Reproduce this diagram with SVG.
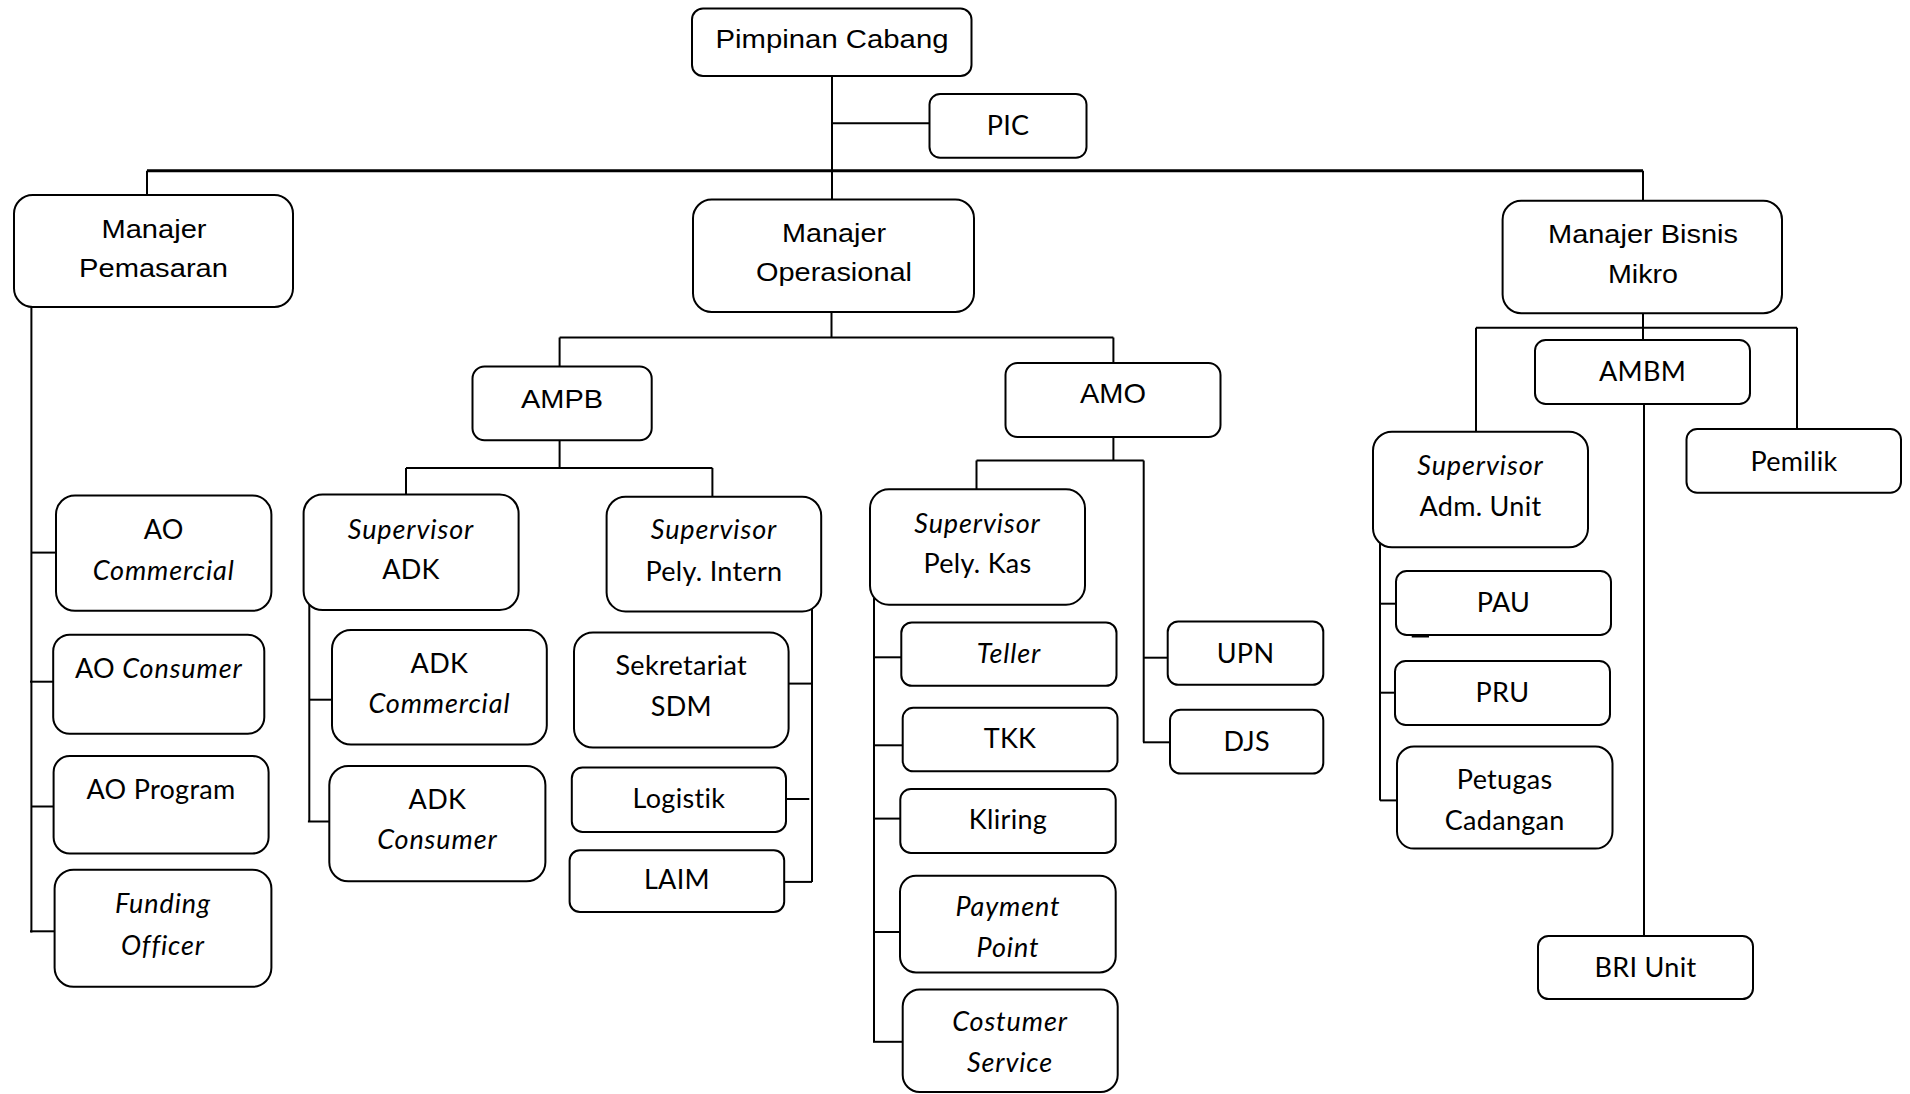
<svg xmlns="http://www.w3.org/2000/svg" width="1910" height="1094" viewBox="0 0 1910 1094">
<style>
rect{fill:#fff;stroke:#000;stroke-width:2}
.c line{stroke:#000;stroke-width:2}
text{font-family:Lato,"Liberation Sans",sans-serif;font-size:27px;letter-spacing:0.3px;fill:#000;text-anchor:middle}
.a{font-family:"Liberation Sans",Arial,sans-serif;font-size:26px;letter-spacing:0}
.i{font-style:italic;letter-spacing:0.9px}
</style>
<g class="c" id="connectors">
<line x1="832" y1="76" x2="832" y2="199.5"/>
<line x1="832" y1="123.3" x2="929.5" y2="123.3"/>
<line x1="147" y1="170.7" x2="1643" y2="170.7" style="stroke-width:3"/>
<line x1="147" y1="170.7" x2="147" y2="195"/>
<line x1="1643" y1="170.7" x2="1643" y2="200.7"/>
<line x1="31.4" y1="307" x2="31.4" y2="932.6"/>
<line x1="31.4" y1="552.6" x2="56" y2="552.6"/>
<line x1="30" y1="681.7" x2="53.2" y2="681.7"/>
<line x1="31.4" y1="806.5" x2="53.6" y2="806.5"/>
<line x1="30" y1="931.3" x2="54.6" y2="931.3"/>
<line x1="831.5" y1="312" x2="831.5" y2="337.5"/>
<line x1="559.6" y1="337.5" x2="1113.4" y2="337.5"/>
<line x1="559.6" y1="337.5" x2="559.6" y2="366.5"/>
<line x1="1113.4" y1="337.5" x2="1113.4" y2="363"/>
<line x1="559.6" y1="440.3" x2="559.6" y2="468"/>
<line x1="406" y1="468" x2="712.4" y2="468"/>
<line x1="406" y1="468" x2="406" y2="494.5"/>
<line x1="712.4" y1="468" x2="712.4" y2="496.7"/>
<line x1="309.3" y1="605" x2="309.3" y2="821.5"/>
<line x1="309.3" y1="699.7" x2="332" y2="699.7"/>
<line x1="307.9" y1="821.5" x2="329.3" y2="821.5"/>
<line x1="812" y1="608" x2="812" y2="882"/>
<line x1="788.6" y1="683.6" x2="812" y2="683.6"/>
<line x1="786" y1="799" x2="809.3" y2="799"/>
<line x1="784.2" y1="881.9" x2="812" y2="881.9"/>
<line x1="1113.4" y1="437" x2="1113.4" y2="460.5"/>
<line x1="976.5" y1="460.5" x2="1143.7" y2="460.5"/>
<line x1="976.5" y1="460.5" x2="976.5" y2="489.3"/>
<line x1="1143.7" y1="460.5" x2="1143.7" y2="742.3"/>
<line x1="1143" y1="657.7" x2="1167.7" y2="657.7"/>
<line x1="1143" y1="742.3" x2="1170" y2="742.3"/>
<line x1="874" y1="598" x2="874" y2="1041.8"/>
<line x1="874" y1="657.3" x2="901.3" y2="657.3"/>
<line x1="873" y1="745.3" x2="902.7" y2="745.3"/>
<line x1="874" y1="818.6" x2="900.3" y2="818.6"/>
<line x1="873" y1="932" x2="900" y2="932"/>
<line x1="873" y1="1041.8" x2="902.7" y2="1041.8"/>
<line x1="1643" y1="313.3" x2="1643" y2="340"/>
<line x1="1476" y1="327.7" x2="1797" y2="327.7"/>
<line x1="1476" y1="327.7" x2="1476" y2="431.7"/>
<line x1="1797" y1="327.7" x2="1797" y2="429"/>
<line x1="1644" y1="404" x2="1644" y2="936"/>
<line x1="1380" y1="543" x2="1380" y2="800.4"/>
<line x1="1380" y1="603.7" x2="1396" y2="603.7"/>
<line x1="1380" y1="692.7" x2="1395" y2="692.7"/>
<line x1="1380" y1="800.4" x2="1397" y2="800.4"/>
<line x1="1411.7" y1="636" x2="1429" y2="636" style="stroke-width:3"/>
</g>
<g id="pimpinan-cabang"><rect x="692" y="8.5" width="279.5" height="67.5" rx="11"/><text class="a" x="832" y="48.3" textLength="233" lengthAdjust="spacingAndGlyphs">Pimpinan Cabang</text></g>
<g id="pic"><rect x="929.5" y="94" width="157" height="63.7" rx="10.6"/><text x="1008" y="135">PIC</text></g>
<g id="manajer-pemasaran"><rect x="14" y="195" width="279" height="112" rx="18.7"/><text class="a" x="154" y="238" textLength="105" lengthAdjust="spacingAndGlyphs">Manajer</text><text class="a" x="153.5" y="276.7" textLength="149" lengthAdjust="spacingAndGlyphs">Pemasaran</text></g>
<g id="manajer-operasional"><rect x="693" y="199.5" width="281" height="112.5" rx="18.7"/><text class="a" x="834" y="242.3" textLength="104" lengthAdjust="spacingAndGlyphs">Manajer</text><text class="a" x="834" y="281" textLength="156" lengthAdjust="spacingAndGlyphs">Operasional</text></g>
<g id="manajer-bisnis-mikro"><rect x="1502.6" y="200.7" width="279.4" height="112.6" rx="18.7"/><text class="a" x="1643" y="243.3" textLength="190" lengthAdjust="spacingAndGlyphs">Manajer Bisnis</text><text class="a" x="1643" y="283.3" textLength="70" lengthAdjust="spacingAndGlyphs">Mikro</text></g>
<g id="ampb"><rect x="472.5" y="366.5" width="179.2" height="73.8" rx="12"/><text class="a" x="562" y="407.5" textLength="82" lengthAdjust="spacingAndGlyphs">AMPB</text></g>
<g id="amo"><rect x="1005.5" y="363" width="215" height="74" rx="12"/><text class="a" x="1113" y="403.3" style="font-size:27.5px" textLength="66" lengthAdjust="spacingAndGlyphs">AMO</text></g>
<g id="ambm"><rect x="1535" y="340" width="215" height="64" rx="10.7"/><text x="1642.5" y="381">AMBM</text></g>
<g id="supervisor-adm-unit"><rect x="1373" y="431.7" width="215" height="115.6" rx="19"/><text class="i" x="1480.5" y="474.7">Supervisor</text><text x="1480.5" y="516">Adm. Unit</text></g>
<g id="pemilik"><rect x="1686.5" y="429" width="214.5" height="63.7" rx="10.6"/><text x="1794" y="470.7">Pemilik</text></g>
<g id="ao-commercial"><rect x="56" y="495.4" width="215.4" height="115.4" rx="19"/><text x="163.7" y="539.4">AO</text><text class="i" x="163.7" y="580">Commercial</text></g>
<g id="ao-consumer"><rect x="53.2" y="634.7" width="211.1" height="99.1" rx="16.5"/><text x="158.8" y="678.3">AO <tspan class="i">Consumer</tspan></text></g>
<g id="ao-program"><rect x="53.6" y="756" width="215" height="97.5" rx="16.2"/><text x="161" y="798.8">AO Program</text></g>
<g id="funding-officer"><rect x="54.6" y="869.7" width="216.8" height="117.1" rx="19"/><text class="i" x="163" y="913.3">Funding</text><text class="i" x="163" y="954.8">Officer</text></g>
<g id="supervisor-adk"><rect x="303.6" y="494.5" width="215" height="115.5" rx="19"/><text class="i" x="411" y="538.5">Supervisor</text><text x="411" y="579">ADK</text></g>
<g id="adk-commercial"><rect x="332" y="630" width="214.8" height="114.5" rx="19"/><text x="439.4" y="673">ADK</text><text class="i" x="439.4" y="713.3">Commercial</text></g>
<g id="adk-consumer"><rect x="329.3" y="765.9" width="216.1" height="115.4" rx="19"/><text x="437.4" y="808.6">ADK</text><text class="i" x="437.4" y="849">Consumer</text></g>
<g id="supervisor-pely-intern"><rect x="606.6" y="496.7" width="214.6" height="114.7" rx="19"/><text class="i" x="714" y="538.8">Supervisor</text><text x="714" y="581.3">Pely. Intern</text></g>
<g id="sekretariat-sdm"><rect x="574" y="632.5" width="214.6" height="115.1" rx="19"/><text x="681.3" y="675.4">Sekretariat</text><text x="681.3" y="716.4">SDM</text></g>
<g id="logistik"><rect x="571.8" y="767.5" width="214.2" height="64.4" rx="10.7"/><text x="678.9" y="807.8">Logistik</text></g>
<g id="laim"><rect x="569.6" y="850.3" width="214.6" height="61.7" rx="10.3"/><text x="676.9" y="889.4">LAIM</text></g>
<g id="supervisor-pely-kas"><rect x="870" y="489.3" width="215" height="115.4" rx="19"/><text class="i" x="977.5" y="533">Supervisor</text><text x="977.5" y="573.4">Pely. Kas</text></g>
<g id="teller"><rect x="901.3" y="622.5" width="215.2" height="63.3" rx="10.5"/><text class="i" x="1009" y="663">Teller</text></g>
<g id="tkk"><rect x="902.7" y="707.8" width="214.8" height="63.5" rx="10.5"/><text x="1010" y="747.6">TKK</text></g>
<g id="kliring"><rect x="900.3" y="789" width="215.4" height="63.9" rx="10.6"/><text x="1008" y="828.5">Kliring</text></g>
<g id="payment-point"><rect x="900" y="875.8" width="215.7" height="96.7" rx="16"/><text class="i" x="1008" y="916.2">Payment</text><text class="i" x="1008" y="957">Point</text></g>
<g id="costumer-service"><rect x="902.7" y="989.6" width="215" height="102.4" rx="17"/><text class="i" x="1010" y="1031.3">Costumer</text><text class="i" x="1010" y="1071.8">Service</text></g>
<g id="upn"><rect x="1167.7" y="621.4" width="155.6" height="63.4" rx="10.5"/><text x="1245.5" y="663">UPN</text></g>
<g id="djs"><rect x="1170" y="709.8" width="153.3" height="63.8" rx="10.6"/><text x="1246.7" y="750.7">DJS</text></g>
<g id="pau"><rect x="1396" y="571" width="215" height="64" rx="10.7"/><text x="1503.5" y="611.8">PAU</text></g>
<g id="pru"><rect x="1395" y="661" width="215" height="64" rx="10.7"/><text x="1502.5" y="702.4">PRU</text></g>
<g id="petugas-cadangan"><rect x="1397" y="746.5" width="215.5" height="102.1" rx="17"/><text x="1504.7" y="789.4">Petugas</text><text x="1504.7" y="830.2">Cadangan</text></g>
<g id="bri-unit"><rect x="1538" y="936" width="215" height="63" rx="10.5"/><text x="1645.5" y="976.7">BRI Unit</text></g>
</svg>
